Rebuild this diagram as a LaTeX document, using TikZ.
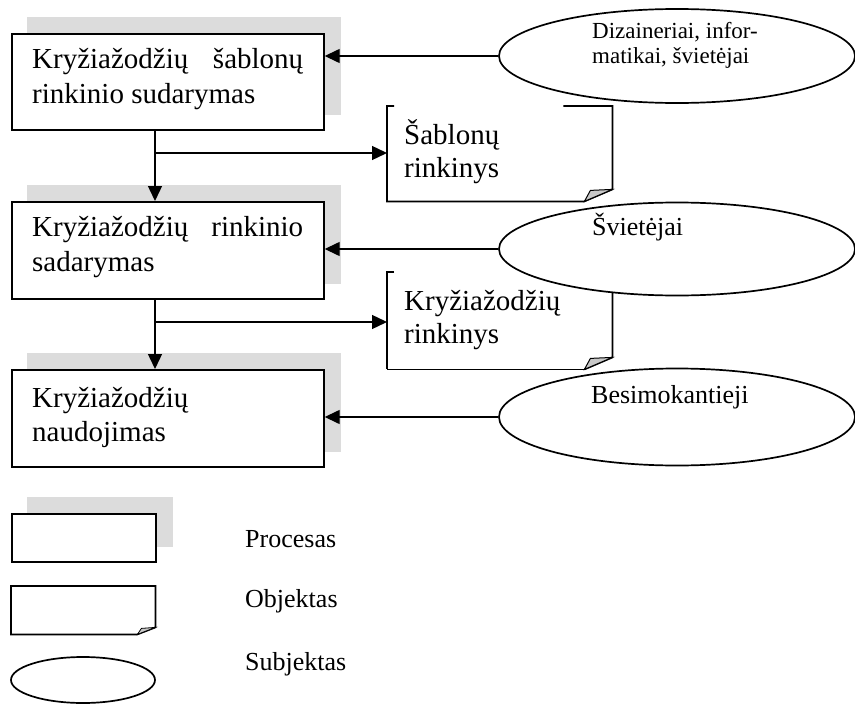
\documentclass[tikz,border=0pt]{standalone}
\usepackage{fontspec}
\setmainfont{Liberation Serif}
\usetikzlibrary{arrows.meta,shapes.geometric,calc,backgrounds}
\definecolor{shadowgray}{HTML}{DCDCDC}
\definecolor{foldgray}{HTML}{C8C8C8}
\tikzset{
  procbox/.style={draw, line width=1.7pt, fill=white, rectangle, anchor=north west, inner sep=0pt},
  objarea/.style={rectangle, anchor=north west, inner sep=0pt},
  objline/.style={line width=1.7pt, line join=miter},
  subj/.style={draw, line width=1.7pt, fill=white, ellipse, inner sep=0pt},
  flow/.style={line width=1.4pt, -{Triangle[length=15pt,width=14pt]}},
  maintxt/.style={anchor=base west, inner sep=0pt, font=\fontsize{29}{34}\selectfont},
  midtxt/.style={anchor=base west, inner sep=0pt, font=\fontsize{26}{30}\selectfont},
  smalltxt/.style={anchor=base west, inner sep=0pt, font=\fontsize{23}{26}\selectfont},
}
\begin{document}
\begin{tikzpicture}[x=1pt,y=-1pt]
\useasboundingbox (0,0) rectangle (855,704);

% process boxes
\node[procbox, minimum width=312pt, minimum height=96pt] (b1) at (11,33) {};
\node[procbox, minimum width=312pt, minimum height=97pt] (b2) at (11,201) {};
\node[procbox, minimum width=312pt, minimum height=97pt] (b3) at (11,369) {};
\node[procbox, minimum width=144pt, minimum height=48pt] (lp) at (11,513) {};

\begin{scope}[on background layer]
  \foreach \b in {b1,b2,b3,lp}
    \fill[shadowgray] ($(\b.south west)+(16,-16)$) rectangle ($(\b.north east)+(16,-16)$);
\end{scope}

% process texts
\node[maintxt] (t1a) at (32,68) {\hbox to 271pt{Kryžiažodžių\hfill šablonų}};
\node[maintxt] (t1b) at (32,103) {rinkinio sudarymas};
\node[maintxt] (t2a) at (32,236) {\hbox to 271pt{Kryžiažodžių\hfill rinkinio}};
\node[maintxt] (t2b) at (32,271) {sadarymas};
\node[maintxt] (t3a) at (32,407) {Kryžiažodžių};
\node[maintxt] (t3b) at (32,441) {naudojimas};

% objects
\node[objarea, minimum width=225pt, minimum height=95pt] (o1) at (387,106) {};
\node[objarea, minimum width=225pt, minimum height=97pt] (o2) at (387,272) {};
\node[objarea, minimum width=144pt, minimum height=48pt] (lo) at (11,586) {};

\draw[objline] ($(o1.north west)+(7,0)$) -- (o1.north west) -- (o1.south west) -- ($(o1.south east)+(-28,0)$)
  -- ($(o1.south east)+(0,-12)$) -- (o1.north east) -- ($(o1.north east)+(-49,0)$);
\filldraw[fill=foldgray, line width=1pt] ($(o1.south east)+(-28,0)$) -- ($(o1.south east)+(-22,-11)$) -- ($(o1.south east)+(0,-12)$) -- cycle;

\draw[objline] ($(o2.north west)+(7,0)$) -- (o2.north west) -- ($(o2.south west)+(0,0)$);
\draw[line width=0.8pt] (o2.south west) -- ($(o2.south east)+(-28,0)$);
\draw[objline] ($(o2.south east)+(-28,0)$) -- ($(o2.south east)+(0,-12)$) -- (o2.north east) -- ($(o2.north east)+(-49,0)$);
\filldraw[fill=foldgray, line width=1pt] ($(o2.south east)+(-28,0)$) -- ($(o2.south east)+(-22,-11)$) -- ($(o2.south east)+(0,-12)$) -- cycle;

\draw[objline] (lo.north west) -- (lo.south west) -- ($(lo.south east)+(-18,0)$)
  -- ($(lo.south east)+(0,-7)$) -- (lo.north east) -- cycle;
\filldraw[fill=foldgray, line width=0.8pt] ($(lo.south east)+(-18,0)$) -- ($(lo.south east)+(-14,-6)$) -- ($(lo.south east)+(0,-7)$) -- cycle;

\node[maintxt] (to1a) at (404,144) {Šablonų};
\node[maintxt] (to1b) at (404,177) {rinkinys};
\node[maintxt] (to2a) at (404,310) {Kryžiažodžių};
\node[maintxt] (to2b) at (404,343) {rinkinys};

% subjects
\node[subj, minimum width=356pt, minimum height=94pt] (e1) at (677,56) {};
\node[subj, minimum width=356pt, minimum height=93pt] (e2) at (677,249) {};
\node[subj, minimum width=356pt, minimum height=97pt] (e3) at (677,417) {};
\node[subj, minimum width=144pt, minimum height=46pt] (le) at (83,680) {};

\node[smalltxt] (te1a) at (592,38) {Dizaineriai, infor-};
\node[smalltxt] (te1b) at (592,63) {matikai, švietėjai};
\node[midtxt] (te2) at (592,235) {Švietėjai};
\node[midtxt] (te3) at (591,403) {Besimokantieji};

% connectors
\draw[flow] (e1.west) -- (e1.west -| b1.east);
\draw[flow] (e2.west) -- (e2.west -| b2.east);
\draw[flow] (e3.west) -- (e3.west -| b3.east);

\coordinate (j1) at (155,153);
\coordinate (j2) at (155,322);
\draw[flow] (b1.south -| j1) -- (b2.north -| j1);
\draw[flow] (j1) -- (j1 -| o1.west);
\draw[flow] (b2.south -| j2) -- (b3.north -| j2);
\draw[flow] (j2) -- (j2 -| o2.west);

% legend
\node[midtxt] (lpt) at (245,547) {Procesas};
\node[midtxt] (lot) at (245,607) {Objektas};
\node[midtxt] (let) at (245,670) {Subjektas};
\end{tikzpicture}
\end{document}
